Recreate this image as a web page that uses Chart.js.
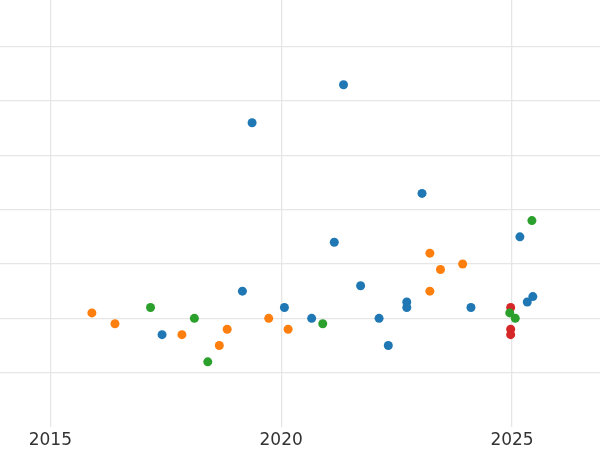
<!DOCTYPE html>
<html>
<head>
<meta charset="utf-8">
<script src="https://cdn.jsdelivr.net/npm/chart.js@4/dist/chart.umd.min.js"></script>
<style>
html,body{margin:0;padding:0;background:#fff;}
#wrap{width:600px;height:450px;}
</style>
</head>
<body>
<div id="wrap"><canvas id="chart"></canvas></div>
<script>
/* DATA */
const blueX=[2017.42,2019.16,2019.37,2020.07,2020.66,2021.15,2021.35,2021.72,2022.12,2022.32,2022.72,2022.72,2023.05,2024.11,2025.17,2025.33,2025.45];
const blueY=[1.7,2.5,5.6,2.2,2.0,3.4,6.3,2.6,2.0,1.5,2.3,2.2,4.3,2.2,3.5,2.3,2.4];

const orangeX=[2015.90,2016.40,2017.85,2018.66,2018.83,2019.73,2020.15,2023.22,2023.45,2023.93,2023.22];
const orangeY=[2.1,1.9,1.7,1.5,1.8,2.0,1.8,3.2,2.9,3.0,2.5];

const greenX=[2017.17,2018.12,2018.41,2020.90,2025.43,2024.95,2025.07];
const greenY=[2.2,2.0,1.2,1.9,3.8,2.1,2.0];

const redX=[2024.97,2024.97,2024.97];
const redY=[2.2,1.8,1.7];

const xTicks=[2015,2020,2025];
const yGrid=[1,2,3,4,5,6,7];

function pts(xs,ys){
return xs.map((x,i)=>({x:x,y:ys[i]}));
}

function ds(xs,ys,color){
return {
data:pts(xs,ys),
backgroundColor:color,
borderWidth:0,
pointRadius:4.5,
pointHoverRadius:4.5
};
}

/* CHART */
new Chart(document.getElementById("chart"),{
type:"scatter",
data:{
datasets:[
ds(blueX,blueY,"#1f77b4"),
ds(orangeX,orangeY,"#ff7f0e"),
ds(greenX,greenY,"#2ca02c"),
ds(redX,redY,"#d62728")
]
},
options:{
responsive:true,
maintainAspectRatio:false,
animation:false,
layout:{padding:0,autoPadding:false},
plugins:{legend:{display:false},tooltip:{enabled:false}},
scales:{
x:{
type:"linear",
min:2013.91,
max:2026.905,
afterBuildTicks:s=>{s.ticks=xTicks.map(v=>({value:v}));},
afterFit:s=>{s.height=23;},
border:{display:false},
grid:{color:"#e6e6e6",lineWidth:1.3,drawTicks:false},
ticks:{
padding:3,
color:"#333",
font:{family:"DejaVu Sans",size:17},
callback:v=>String(v)
}
},
y:{
min:0,
max:7.86,
afterBuildTicks:s=>{s.ticks=yGrid.map(v=>({value:v}));},
border:{display:false},
grid:{color:"#e6e6e6",lineWidth:1.3,drawTicks:false},
ticks:{display:false}
}
}
}
});
</script>
</body>
</html>
